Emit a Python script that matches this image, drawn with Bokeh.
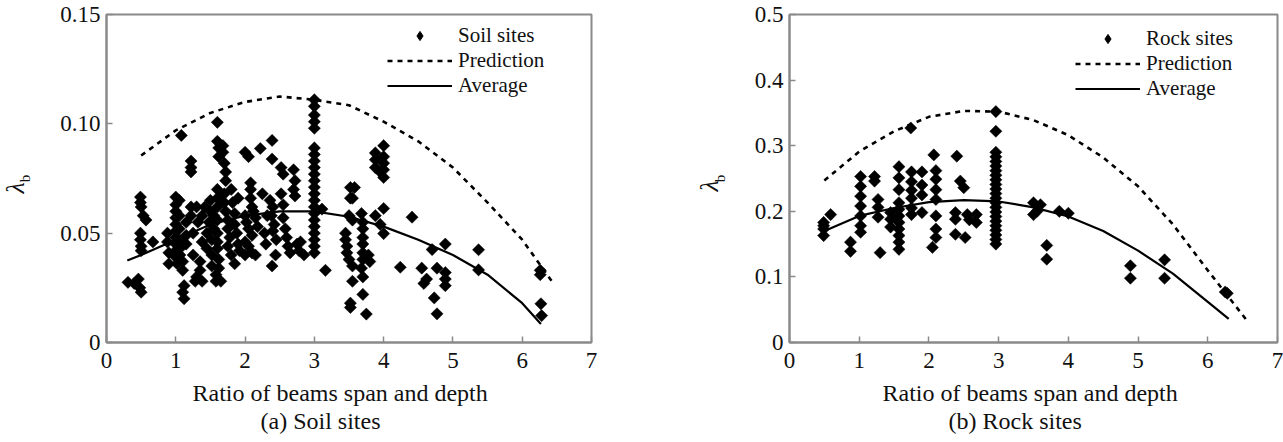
import math
from bokeh.plotting import figure
from bokeh.layouts import row
from bokeh.models import Range1d, Legend, LegendItem, FixedTicker, Title
from bokeh.embed import file_html
from bokeh.resources import INLINE

# ---------------- data: soil sites ----------------
soil_x = [0.31, 0.40, 0.46, 0.48, 0.50,
          0.49, 0.49, 0.50, 0.53, 0.57, 0.49, 0.49, 0.50, 0.50, 0.67,
          0.88, 0.88, 0.90, 0.90,
          1.00, 1.00, 1.00, 1.00, 1.00, 1.00, 1.00, 1.00, 1.00, 1.00, 1.02,
          1.05, 1.05, 1.05, 1.05, 1.06, 1.06, 1.08,
          1.10, 1.10, 1.12, 1.10, 1.12, 1.15, 1.15, 1.15,
          1.22, 1.22, 1.22, 1.22, 1.22, 1.25, 1.25, 1.28, 1.30,
          1.30, 1.32, 1.35, 1.35, 1.38, 1.38, 1.38,
          1.42, 1.45, 1.45, 1.48, 1.50, 1.50, 1.52, 1.52, 1.52, 1.55, 1.55, 1.58, 1.58, 1.60,
          1.60, 1.62, 1.62, 1.60, 1.60, 1.60, 1.60, 1.60, 1.60, 1.60, 1.62, 1.62, 1.65,
          1.68, 1.68, 1.70, 1.72, 1.72, 1.70, 1.70, 1.72, 1.75, 1.75, 1.78, 1.80, 1.82, 1.85,
          1.85, 1.88, 1.90, 1.90, 1.92, 1.75, 1.80, 1.85,
          2.00, 2.05, 2.08, 2.08, 2.08, 2.10, 2.00, 2.02, 2.05, 2.10, 2.00, 2.05, 2.10, 2.15,
          2.00, 2.12, 2.15, 2.18, 2.22, 2.25, 2.28, 2.30, 2.32,
          2.39, 2.39, 2.36, 2.40, 2.38, 2.42, 2.40, 2.45, 2.39, 2.44,
          2.52, 2.55, 2.52, 2.55, 2.55, 2.58, 2.60, 2.62, 2.65,
          2.70, 2.72, 2.70, 2.72, 2.75, 2.78, 2.80, 2.85,
          3.00, 3.00, 3.00, 3.00, 3.00, 3.00, 3.00, 3.00, 3.00, 3.00, 3.00,
          3.00, 3.00, 3.00, 3.00, 3.00, 3.00, 3.00, 3.00, 3.00, 3.00, 3.00,
          3.11, 3.16,
          3.52, 3.58, 3.52, 3.55, 3.50, 3.55, 3.45, 3.45, 3.47, 3.47, 3.50, 3.55, 3.55, 3.52, 3.52,
          3.68, 3.70, 3.70, 3.70, 3.70, 3.70, 3.70, 3.68, 3.70, 3.70, 3.75, 3.78, 3.80,
          4.00, 3.88, 4.00, 3.88, 4.00, 3.88, 4.00, 3.95, 4.00, 4.00, 3.88, 3.95, 4.00,
          4.24, 4.41, 4.55, 4.62, 4.58, 4.70, 4.89, 4.77, 4.89, 4.89, 4.89, 4.73, 4.77,
          5.37, 5.37, 6.26, 6.26, 6.27, 6.28]
soil_y = [0.0275, 0.027, 0.029, 0.025, 0.023,
          0.0665, 0.064, 0.062, 0.058, 0.056, 0.050, 0.047, 0.044, 0.042, 0.046,
          0.050, 0.046, 0.041, 0.036,
          0.0665, 0.063, 0.060, 0.057, 0.054, 0.051, 0.048, 0.045, 0.042, 0.039, 0.036,
          0.065, 0.058, 0.052, 0.047, 0.043, 0.040, 0.0947,
          0.037, 0.033, 0.026, 0.023, 0.020, 0.055, 0.049, 0.045,
          0.083, 0.080, 0.078, 0.062, 0.058, 0.050, 0.040, 0.028, 0.030,
          0.062, 0.055, 0.037, 0.033, 0.058, 0.046, 0.028,
          0.062, 0.050, 0.043, 0.055, 0.060, 0.065, 0.047, 0.040, 0.035, 0.052, 0.058, 0.028, 0.031, 0.1007,
          0.092, 0.089, 0.085, 0.070, 0.066, 0.062, 0.056, 0.050, 0.046, 0.043, 0.038, 0.034, 0.028,
          0.090, 0.087, 0.082, 0.078, 0.074, 0.068, 0.064, 0.060, 0.056, 0.052, 0.048, 0.070, 0.064, 0.059,
          0.054, 0.050, 0.045, 0.066, 0.042, 0.044, 0.040, 0.036,
          0.087, 0.085, 0.073, 0.070, 0.066, 0.062, 0.058, 0.055, 0.052, 0.049, 0.046, 0.044, 0.041, 0.040,
          0.040, 0.060, 0.057, 0.053, 0.0887, 0.068, 0.050, 0.045, 0.058,
          0.0924, 0.0839, 0.065, 0.062, 0.058, 0.054, 0.051, 0.047, 0.035, 0.040,
          0.080, 0.077, 0.068, 0.063, 0.057, 0.052, 0.048, 0.044, 0.041,
          0.079, 0.074, 0.070, 0.067, 0.045, 0.042, 0.046, 0.040,
          0.111, 0.108, 0.104, 0.101, 0.098, 0.089, 0.086, 0.083, 0.080, 0.077, 0.074,
          0.071, 0.068, 0.065, 0.062, 0.059, 0.056, 0.053, 0.050, 0.047, 0.044, 0.041,
          0.061, 0.033,
          0.0709, 0.0709, 0.066, 0.066, 0.058, 0.056, 0.050, 0.047, 0.044, 0.041, 0.038, 0.035, 0.028, 0.018, 0.016,
          0.059, 0.055, 0.052, 0.048, 0.045, 0.041, 0.038, 0.034, 0.030, 0.022, 0.013, 0.040, 0.037,
          0.090, 0.0867, 0.085, 0.0836, 0.082, 0.080, 0.079, 0.078, 0.0755, 0.0613, 0.058, 0.054, 0.0498,
          0.0344, 0.0573, 0.034, 0.029, 0.027, 0.0425, 0.045, 0.034, 0.032, 0.029, 0.026, 0.0204, 0.0131,
          0.0424, 0.0332, 0.033, 0.031, 0.0177, 0.0123]

soil_pred_x = [0.5, 1.0, 1.5, 2.0, 2.5, 3.0, 3.5, 4.0, 4.5, 5.0, 5.5, 6.0, 6.45]
soil_pred_y = [0.0855, 0.097, 0.105, 0.110, 0.1125, 0.111, 0.1085, 0.101, 0.092, 0.080, 0.064, 0.047, 0.027]
soil_avg_x = [0.3, 0.5, 1.0, 1.5, 2.0, 2.5, 3.0, 3.5, 4.0, 4.5, 5.0, 5.5, 6.0, 6.27]
soil_avg_y = [0.0375, 0.040, 0.047, 0.054, 0.058, 0.060, 0.060, 0.0575, 0.053, 0.047, 0.040, 0.031, 0.018, 0.0085]

# ---------------- data: rock sites ----------------
rock_x = [0.49, 0.49, 0.49, 0.49, 0.59,
          0.875, 0.875,
          1.02, 1.02, 1.02, 1.02, 1.02, 1.02, 1.02,
          1.22, 1.22, 1.30,
          1.27, 1.27, 1.27,
          1.45, 1.45, 1.45,
          1.57, 1.57, 1.57, 1.57, 1.57, 1.57, 1.57, 1.57, 1.57, 1.57, 1.57,
          1.74,
          1.75, 1.75, 1.75, 1.75, 1.75, 1.75,
          1.90, 1.90, 1.90, 1.90,
          2.05, 2.07,
          2.10, 2.10, 2.10, 2.10, 2.10, 2.10, 2.10,
          2.40, 2.45, 2.50,
          2.38, 2.38, 2.38,
          2.55, 2.58, 2.52,
          2.68, 2.68,
          2.96, 2.96,
          2.96, 2.96, 2.96, 2.96, 2.96, 2.96, 2.96, 2.96, 2.96, 2.96, 2.96,
          2.96, 2.96, 2.96, 2.96, 2.96, 2.96, 2.96, 2.96, 2.96, 2.96,
          3.50, 3.50, 3.60, 3.55, 3.69, 3.69, 3.87, 4.00,
          4.89, 4.89, 5.38, 5.38, 6.25, 6.28]
rock_y = [0.183, 0.178, 0.173, 0.163, 0.195,
          0.153, 0.139,
          0.253, 0.238, 0.223, 0.208, 0.193, 0.178, 0.168,
          0.253, 0.246, 0.137,
          0.218, 0.206, 0.191,
          0.198, 0.188, 0.176,
          0.268, 0.251, 0.233, 0.213, 0.203, 0.193, 0.183, 0.173, 0.163, 0.153, 0.142,
          0.327,
          0.260, 0.245, 0.232, 0.220, 0.205, 0.195,
          0.260, 0.240, 0.225, 0.198,
          0.145, 0.286,
          0.262, 0.249, 0.233, 0.218, 0.193, 0.173, 0.160,
          0.284, 0.246, 0.236,
          0.198, 0.188, 0.165,
          0.195, 0.187, 0.160,
          0.195, 0.183,
          0.352, 0.322,
          0.290, 0.283, 0.276, 0.269, 0.262, 0.255, 0.248, 0.241, 0.234, 0.227, 0.220,
          0.213, 0.206, 0.199, 0.192, 0.185, 0.178, 0.171, 0.164, 0.157, 0.150,
          0.213, 0.195, 0.210, 0.200, 0.148, 0.127, 0.200, 0.197,
          0.117, 0.098, 0.126, 0.098, 0.077, 0.075]

rock_pred_x = [0.5, 1.0, 1.5, 2.0, 2.5, 3.0, 3.5, 4.0, 4.5, 5.0, 5.5, 6.0, 6.55]
rock_pred_y = [0.247, 0.291, 0.322, 0.344, 0.353, 0.352, 0.339, 0.316, 0.282, 0.238, 0.180, 0.110, 0.035]
rock_avg_x = [0.5, 1.0, 1.5, 2.0, 2.5, 3.0, 3.5, 4.0, 4.5, 5.0, 5.5, 6.0, 6.3]
rock_avg_y = [0.170, 0.193, 0.205, 0.214, 0.217, 0.215, 0.206, 0.192, 0.170, 0.140, 0.105, 0.062, 0.036]

x_ticks = [0, 1, 2, 3, 4, 5, 6, 7]
soil_y_ticks = [0, 0.05, 0.10, 0.15]
soil_y_tick_labels = ["0", "0.05", "0.10", "0.15"]
rock_y_ticks = [0, 0.1, 0.2, 0.3, 0.4, 0.5]
rock_y_tick_labels = ["0", "0.1", "0.2", "0.3", "0.4", "0.5"]

x_label = "Ratio of beams span and depth"
y_symbol = "λ"
y_subscript = "b"

FONT = "Liberation Serif"
AXC = "#8a8a8a"
TXT = "#111111"


def make_title(text, size, standoff, offset, style="normal"):
    kw = dict(text=text, align="left", offset=offset,
              text_font=FONT, text_font_size=size, text_font_style=style,
              text_color=TXT)
    try:
        return Title(standoff=standoff, **kw)
    except Exception:
        return Title(standoff=0, **kw)


def make_panel(width, bl, br, bt, bb, ymax, yticks, ylabels, sx, sy, px, py, ax, ay,
               series_name, caption, legend_loc, xl_off, cap_off, lam_off):
    p = figure(width=width, height=442, output_backend="svg", toolbar_location=None,
               x_range=Range1d(0, 7), y_range=Range1d(0, ymax),
               min_border_left=bl, min_border_right=br, min_border_top=bt, min_border_bottom=bb)
    p.grid.visible = False
    p.outline_line_color = AXC
    p.outline_line_width = 2
    for axis in (p.xaxis[0], p.yaxis[0]):
        axis.axis_line_color = AXC
        axis.axis_line_width = 2
        axis.major_tick_line_color = AXC
        axis.major_tick_line_width = 1.5
        axis.major_tick_in = 6
        axis.major_tick_out = 0
        axis.minor_tick_line_color = None
        axis.major_label_text_font = FONT
        axis.major_label_text_font_size = "23px"
        axis.major_label_text_color = TXT
    p.xaxis[0].ticker = FixedTicker(ticks=x_ticks)
    p.xaxis[0].major_label_standoff = 10
    p.yaxis[0].ticker = FixedTicker(ticks=yticks)
    p.yaxis[0].major_label_overrides = {t: l for t, l in zip(yticks, ylabels)}
    p.yaxis[0].major_label_standoff = 6
    # subscript part of the y label sits next to the tick labels
    p.yaxis[0].axis_label = y_subscript
    p.yaxis[0].axis_label_standoff = 24
    p.yaxis[0].axis_label_text_font = FONT
    p.yaxis[0].axis_label_text_font_size = "15px"
    p.yaxis[0].axis_label_text_font_style = "normal"
    p.yaxis[0].axis_label_text_color = TXT

    pred = p.line(px, py, line_color="black", line_width=2.6, line_dash="5 5")
    avg = p.line(ax, ay, line_color="black", line_width=2.2)
    p.scatter(sx, sy, marker="square", angle=math.pi / 4, size=8.6,
              fill_color="black", line_color="black", line_width=0.5)
    # legend-only marker (placed outside the visible range)
    key = p.scatter([-10], [-10], marker="diamond", size=13,
                    fill_color="black", line_color="black")

    legend = Legend(items=[LegendItem(label=series_name, renderers=[key]),
                           LegendItem(label="Prediction", renderers=[pred]),
                           LegendItem(label="Average", renderers=[avg])],
                    location=legend_loc, padding=0, margin=0, spacing=0,
                    glyph_width=65, glyph_height=23, label_height=23, label_standoff=6,
                    border_line_color=None, background_fill_alpha=0,
                    label_text_font=FONT, label_text_font_size="21px",
                    label_text_color=TXT)
    p.add_layout(legend)

    p.add_layout(make_title(x_label, "24px", 14, xl_off), "below")
    p.add_layout(make_title(caption, "24px", -14, cap_off), "below")
    p.add_layout(make_title(y_symbol, "26px", -31, lam_off, style="italic"), "left")
    return p


p1 = make_panel(680, 106, 89, 14, 100, 0.15, soil_y_ticks, soil_y_tick_labels,
                soil_x, soil_y, soil_pred_x, soil_pred_y, soil_avg_x, soil_avg_y,
                "Soil sites", "(a) Soil sites", (281, 244), 86, 154, 149)
p2 = make_panel(603, 109, 6, 14, 98, 0.5, rock_y_ticks, rock_y_tick_labels,
                rock_x, rock_y, rock_pred_x, rock_pred_y, rock_avg_x, rock_avg_y,
                "Rock sites", "(b) Rock sites", (286, 241), 93, 159, 151)

layout = row(p1, p2)
open("out.html", "w").write(file_html(layout, INLINE))
